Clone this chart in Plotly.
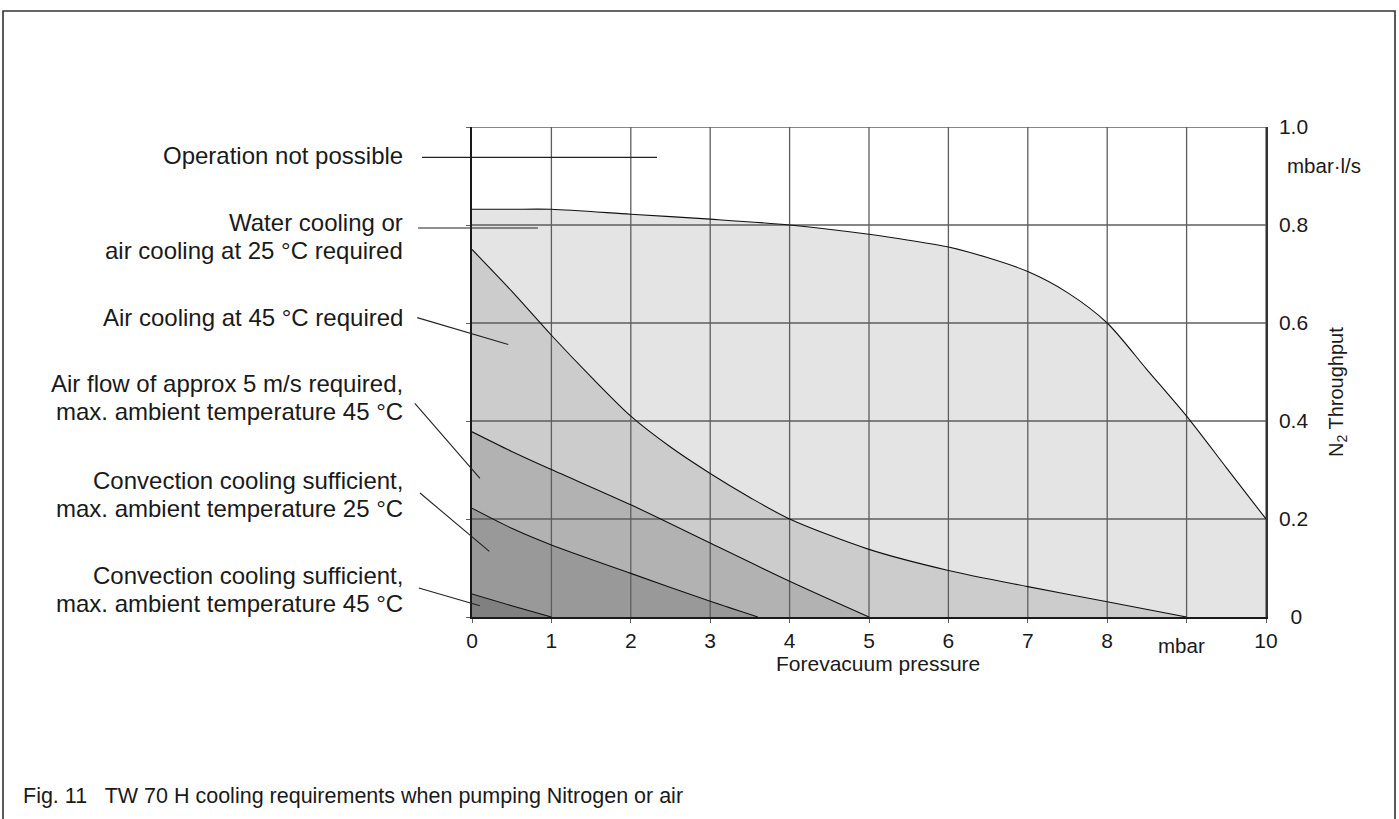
import plotly.graph_objects as go

# ---------------- data ----------------
x_ticks = [0, 1, 2, 3, 4, 5, 6, 7, 8, 10]
x_ticktext = ["0", "1", "2", "3", "4", "5", "6", "7", "8", "10"]
x_grid = [0, 1, 2, 3, 4, 5, 6, 7, 8, 9, 10]
y_ticks = [0, 0.2, 0.4, 0.6, 0.8, 1.0]
y_ticktext = ["\u20070", "0.2", "0.4", "0.6", "0.8", "1.0"]

# upper operating limit (Operation not possible above)
limit_x = [0, 0.5, 1, 2, 3, 4, 5, 5.5, 6, 6.5, 7, 7.5, 8, 8.5, 9, 9.5, 10]
limit_y = [0.832, 0.832, 0.832, 0.822, 0.812, 0.80, 0.781, 0.769, 0.755, 0.733, 0.705, 0.662, 0.6, 0.505, 0.41, 0.305, 0.2]

# air cooling at 45 °C boundary
air45_x = [0, 0.5, 1, 1.5, 2, 2.5, 3, 3.5, 4, 5, 6, 7, 8, 9]
air45_y = [0.75, 0.665, 0.575, 0.49, 0.41, 0.347, 0.293, 0.244, 0.2, 0.138, 0.095, 0.062, 0.031, 0]

# air flow 5 m/s boundary
airflow_x = [0, 0.5, 1, 2, 3, 4, 5]
airflow_y = [0.378, 0.338, 0.301, 0.229, 0.151, 0.073, 0]

# convection cooling 25 °C boundary
conv25_x = [0, 0.5, 1, 2, 3, 3.6]
conv25_y = [0.222, 0.181, 0.147, 0.089, 0.032, 0]

# convection cooling 45 °C boundary
conv45_x = [0, 0.5, 1]
conv45_y = [0.047, 0.023, 0]

curves = [(limit_x, limit_y), (air45_x, air45_y), (airflow_x, airflow_y),
          (conv25_x, conv25_y), (conv45_x, conv45_y)]
curve_smoothing = [0.8, 0.8, 0.8, 0.8, 0.8]
region_colors = ["#e4e4e4", "#cccccc", "#b2b2b2", "#999999", "#808080"]

# region labels: text lines, (pixel) vertical centres
label_lines = [
    "Operation not possible",
    "Water cooling or",
    "air cooling at 25 \u00b0C required",
    "Air cooling at 45 \u00b0C required",
    "Air flow of approx 5 m/s required,",
    "max. ambient temperature 45 \u00b0C",
    "Convection cooling sufficient,",
    "max. ambient temperature 25 \u00b0C",
    "Convection cooling sufficient,",
    "max. ambient temperature 45 \u00b0C",
]
label_py = [155, 222, 250, 317, 383, 411.5, 480, 508, 575, 603]

# leader lines (tail -> tip) in data units
leader_tail_x = [-0.63, -0.68, -0.69, -0.72, -0.655, -0.67]
leader_tail_y = [0.938, 0.794, 0.611, 0.436, 0.253, 0.059]
leader_tip_x = [2.33, 0.83, 0.457, 0.10, 0.218, 0.10]
leader_tip_y = [0.938, 0.794, 0.556, 0.283, 0.134, 0.023]

# ---------------- layout geometry ----------------
W, H = 1399, 819
L, R, T, B = 472, 1266, 127, 617
X0, X1 = x_grid[0], x_grid[-1]
Y0, Y1 = y_ticks[0], y_ticks[-1]
FONT = "Liberation Sans, Arial, Helvetica, sans-serif"
TXT = "#1a1a1a"
GRID = "#5e5e5e"


def xp(px):
    return (px - L) / (R - L)


def yp(py):
    return (B - py) / (B - T)


def dx2p(v):
    return (v - X0) / (X1 - X0)


def dy2p(v):
    return (v - Y0) / (Y1 - Y0)


fig = go.Figure()

# filled regions (lightest first)
for (cx, cy), col, sm in zip(curves, region_colors, curve_smoothing):
    fig.add_trace(go.Scatter(x=cx, y=cy, mode="lines", fill="tozeroy",
                             fillcolor=col, line=dict(width=0, shape="spline", smoothing=sm),
                             hoverinfo="skip", showlegend=False))

# grid lines drawn over the fills
gx, gy = [], []
for v in x_grid[1:]:
    gx += [v, v, None]
    gy += [Y0, Y1, None]
for v in y_ticks[1:]:
    gx += [X0, X1, None]
    gy += [v, v, None]
fig.add_trace(go.Scatter(x=gx, y=gy, mode="lines", line=dict(color=GRID, width=1.3),
                         hoverinfo="skip", showlegend=False))

# boundary curves
for (cx, cy), sm in zip(curves, curve_smoothing):
    fig.add_trace(go.Scatter(x=cx, y=cy, mode="lines",
                             line=dict(color="#111111", width=1.1, shape="spline", smoothing=sm),
                             hoverinfo="skip", showlegend=False))

# dummy trace for right axis
fig.add_trace(go.Scatter(x=[X0, X1], y=[Y0, Y1], yaxis="y2", mode="markers",
                         marker=dict(opacity=0), hoverinfo="skip", showlegend=False))

annotations = []
for txt, py in zip(label_lines, label_py):
    annotations.append(dict(text=txt, xref="paper", yref="paper", x=xp(405), y=yp(py),
                            xanchor="right", yanchor="middle", showarrow=False,
                            font=dict(family=FONT, size=24, color=TXT)))

annotations += [
    dict(text="Forevacuum pressure", xref="paper", yref="paper", x=xp(878), y=yp(663),
         xanchor="center", yanchor="middle", showarrow=False,
         font=dict(family=FONT, size=21, color=TXT)),
    dict(text="mbar", xref="paper", yref="paper", x=xp(1181), y=yp(645),
         xanchor="center", yanchor="middle", showarrow=False,
         font=dict(family=FONT, size=20.5, color=TXT)),
    dict(text="mbar\u00b7l/s", xref="paper", yref="paper", x=xp(1324), y=yp(166),
         xanchor="center", yanchor="middle", showarrow=False,
         font=dict(family=FONT, size=20.5, color=TXT)),
    dict(text="N<sub>2</sub> Throughput", xref="paper", yref="paper", x=xp(1337), y=yp(392),
         xanchor="center", yanchor="middle", showarrow=False, textangle=-90,
         font=dict(family=FONT, size=20, color=TXT)),
    dict(text="Fig. 11   TW 70 H cooling requirements when pumping Nitrogen or air",
         xref="paper", yref="paper", x=xp(21), y=yp(796),
         xanchor="left", yanchor="middle", showarrow=False,
         font=dict(family=FONT, size=21.5, color=TXT)),
]

shapes = []
# leader lines from labels into the regions
for tx, ty, hx, hy in zip(leader_tail_x, leader_tail_y, leader_tip_x, leader_tip_y):
    shapes.append(dict(type="line", xref="paper", yref="paper",
                       x0=dx2p(tx), y0=dy2p(ty), x1=dx2p(hx), y1=dy2p(hy),
                       line=dict(color="#222222", width=1.1), layer="above"))

# outer frame (open at bottom)
shapes.append(dict(type="path", xref="paper", yref="paper",
                   path=f"M {xp(3)} {yp(819)} L {xp(3)} {yp(11)} L {xp(1395)} {yp(11)} L {xp(1395)} {yp(819)}",
                   line=dict(color="#333333", width=1.6)))

fig.update_layout(
    width=W, height=H, autosize=False,
    margin=dict(l=L, r=W - R, t=T, b=H - B, pad=0),
    paper_bgcolor="white", plot_bgcolor="white",
    showlegend=False,
    annotations=annotations, shapes=shapes,
    xaxis=dict(range=[X0, X1], tickvals=x_ticks, ticktext=x_ticktext,
               showgrid=False, zeroline=False, showline=True, linecolor="#1a1a1a",
               linewidth=2, ticks="outside", ticklen=4, tickcolor=GRID, tickwidth=1.2,
               ticklabelstandoff=0,
               minor=dict(tickvals=x_grid, ticks="outside", ticklen=4, tickcolor=GRID,
                          tickwidth=1.2, showgrid=False),
               tickfont=dict(family=FONT, size=21, color=TXT), layer="above traces",
               fixedrange=True),
    yaxis=dict(range=[Y0, Y1], tickvals=y_ticks, showticklabels=False,
               showgrid=False, zeroline=False, showline=True, linecolor="#1a1a1a",
               linewidth=2, ticks="outside", ticklen=4, tickcolor=GRID, tickwidth=1.2,
               layer="above traces", fixedrange=True),
    yaxis2=dict(range=[Y0, Y1], overlaying="y", side="right", tickvals=y_ticks,
                ticktext=y_ticktext, showgrid=False, zeroline=False, showline=True,
                linecolor="#333333", linewidth=1.5, ticks="", ticklabelstandoff=7,
                tickfont=dict(family=FONT, size=21, color=TXT), fixedrange=True),
)

fig.write_html("out.html", config={"displayModeBar": False},
               post_script="document.body.style.margin='0';")
